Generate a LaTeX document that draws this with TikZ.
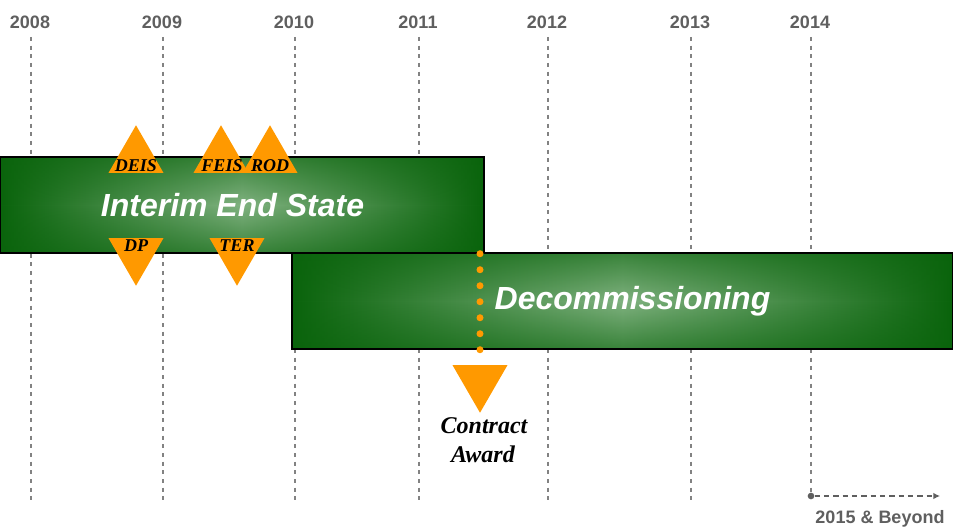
\documentclass[tikz,border=0pt]{standalone}
\usepackage{fontspec}
\setmainfont{Liberation Serif}
\setsansfont{Liberation Sans}
\usetikzlibrary{shapes.geometric,arrows.meta,fadings}
\definecolor{dkgreen}{RGB}{10,100,12}
\definecolor{ltgreen}{RGB}{128,178,128}
\definecolor{milestone}{RGB}{255,153,0}
\definecolor{yeargray}{RGB}{95,95,95}
\definecolor{linegray}{RGB}{130,130,130}
\tikzfading[name=barfade, top color=transparent!40, bottom color=transparent!40, middle color=transparent!100]

\begin{document}
\begin{tikzpicture}[x=0.75pt,y=-0.75pt]
\tikzset{yearlab/.style={anchor=base, text=yeargray, font=\sffamily\bfseries\fontsize{13.5}{16}\selectfont},
  vline/.style={draw=linegray, line width=1pt, dash pattern=on 3pt off 3.5pt},
  bar/.style={draw=black, line width=1.1pt, inner sep=0pt, left color=dkgreen, right color=dkgreen, middle color=ltgreen,
    path picture={\fill[dkgreen, path fading=barfade] (path picture bounding box.south west) rectangle (path picture bounding box.north east);}},
  bartext/.style={anchor=base, text=white, font=\sffamily\bfseries\itshape\fontsize{24}{28}\selectfont},
  uptri/.style={regular polygon, regular polygon sides=3, fill=milestone, minimum size=47.6pt, inner sep=0pt, outer sep=0pt},
  downtri/.style={uptri, regular polygon rotate=180},
  milab/.style={anchor=base, font=\bfseries\itshape\fontsize{13.5}{16}\selectfont},
  bigmilab/.style={anchor=base, font=\bfseries\itshape\fontsize{18}{22}\selectfont},
  dotline/.style={draw=milestone, line width=5.25pt, line cap=round, dash pattern=on 0pt off 12pt}}
\useasboundingbox (0,0) rectangle (953,527);
% years and grid
\foreach \x/\yr/\e in {31/2008/501, 163/2009/501, 295/2010/501, 419/2011/501, 548/2012/501, 691/2013/501, 811/2014/496}{
  \node[yearlab] (Y\yr) at (\x-1,29) {\yr};
  \coordinate (T\yr) at (\x,37);
  \coordinate (B\yr) at (\x,\e);
  \draw[vline] (T\yr) -- (B\yr);
}
% phases
\node[bar, minimum width=363pt, minimum height=72pt] (IES) at (242,205) {};
\node[bar, minimum width=495.75pt, minimum height=72pt] (DEC) at (622.5,301) {};
\node[bartext] (IEStxt) at (232.5,217) {Interim End State};
\node[bartext] (DECtxt) at (632.5,310) {Decommissioning};
% milestones
\node[uptri] (DEIS) at (136,157) {};
\node[uptri] (FEIS) at (221,157) {};
\node[uptri] (ROD) at (270,157) {};
\node[downtri] (DP) at (136,254) {};
\node[downtri] (TER) at (237,254) {};
\node[downtri] (CA) at (480,381) {};
\draw[dotline] (IES.south -| CA) -- (CA.north);
\node[milab] (DEISl) at (136,172) {DEIS};
\node[milab] (FEISl) at (222,172) {FEIS};
\node[milab] (RODl) at (270,172) {ROD};
\node[milab] (DPl) at (136,252) {DP};
\node[milab] (TERl) at (237,252) {TER};
\node[bigmilab] (CAl1) at (484,433) {Contract};
\node[bigmilab] (CAl2) at (483,462) {Award};
% beyond
\node[circle, fill=yeargray, inner sep=0pt, minimum size=5pt] (P2014) at (811,496) {};
\coordinate (Q) at (940,496);
\draw[yeargray, line width=1pt, dash pattern=on 4pt off 3pt, -{Latex[length=5pt,width=5pt]}] (P2014) -- (Q);
\node[yearlab] (beyond) at (880,523) {2015 \& Beyond};
\end{tikzpicture}
\end{document}
